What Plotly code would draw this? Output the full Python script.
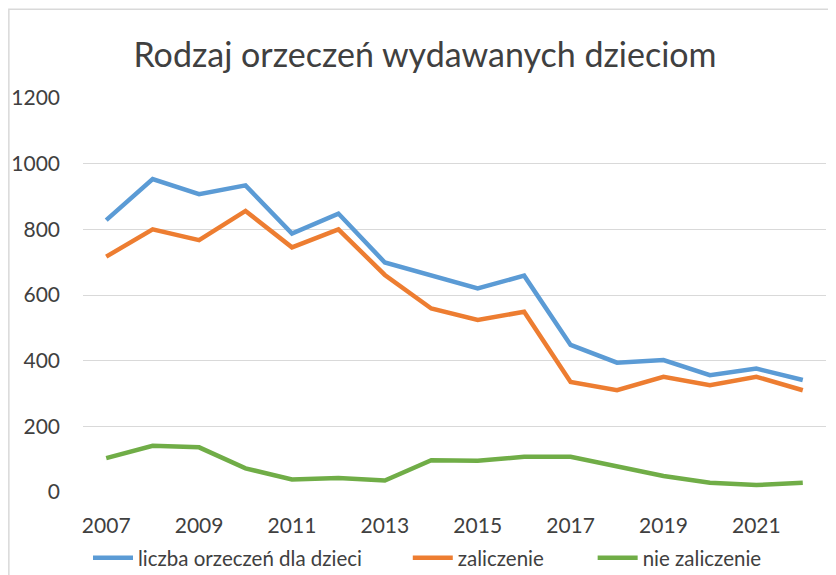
import plotly.graph_objects as go

years = list(range(2007, 2023))
liczba = [828, 953, 907, 934, 787, 848, 699, 660, 620, 659, 448, 394, 402, 356, 376, 341]
zaliczenie = [717, 800, 767, 856, 745, 800, 661, 559, 524, 549, 335, 310, 351, 325, 351, 310]
nie_zaliczenie = [103, 141, 136, 72, 38, 43, 35, 97, 95, 107, 107, 78, 49, 28, 21, 28]

names = ["liczba orzeczeń dla dzieci", "zaliczenie", "nie zaliczenie"]
colors = ["#5B9BD5", "#ED7D31", "#70AD47"]
series = [liczba, zaliczenie, nie_zaliczenie]
legend_ids = ["legend", "legend2", "legend3"]

FONT = "Lato, Open Sans, sans-serif"
fig = go.Figure()
for n, c, s, lg in zip(names, colors, series, legend_ids):
    fig.add_trace(go.Scatter(x=years, y=s, name=n, mode="lines", legend=lg,
                             line=dict(color=c, width=4.5)))

# the page body adds an 8px offset; figure coords = reference px - 8
OFF = 8
FW, FH = 828, 567
L, R, T, B = 83 - OFF, 826.5 - OFF, 97.7 - OFF, 492 - OFF
W, H = R - L, B - T
def px(x): return (x - OFF - L) / W
def py(y): return (B - (y - OFF)) / H

def leg(text_start):
    return dict(orientation="h", x=px(text_start - 50), xanchor="left", y=py(558),
                yanchor="middle", font=dict(size=20.5, color="#404040"),
                itemwidth=40, bgcolor="rgba(0,0,0,0)")

fig.update_layout(
    width=FW, height=FH,
    margin=dict(l=L, r=FW - R, t=T, b=FH - B, pad=0, autoexpand=False),
    paper_bgcolor="white", plot_bgcolor="white",
    font=dict(family=FONT, color="#404040", size=20),
    title=dict(text="Rodzaj orzeczeń wydawanych dzieciom", x=(425 - OFF) / FW, xanchor="center",
               y=1 - (55 - OFF) / FH, yanchor="middle",
               font=dict(family=FONT, size=34, color="#404040")),
    xaxis=dict(range=[2006.5, 2022.5], tick0=2007, dtick=2, showgrid=False,
               zeroline=False, showline=False, ticks="", ticklabelstandoff=19,
               automargin=False, tickfont=dict(size=21, color="#404040")),
    yaxis=dict(range=[0, 1200], dtick=200, showgrid=True, gridcolor="#D9D9D9",
               gridwidth=1, zeroline=False, showline=False, ticks="",
               ticklabelstandoff=22, automargin=False,
               tickfont=dict(size=21, color="#404040")),
    legend=leg(138), legend2=leg(458), legend3=leg(643),
    showlegend=True,
)
fig.add_shape(type="rect", xref="paper", yref="paper",
              x0=px(OFF + 0.8), x1=px(OFF + FW + 10), y0=py(OFF + FH + 10), y1=py(OFF + 0.8),
              line=dict(color="#D9D9D9", width=1.5), fillcolor="rgba(0,0,0,0)", layer="below")

fig.write_html("out.html")
